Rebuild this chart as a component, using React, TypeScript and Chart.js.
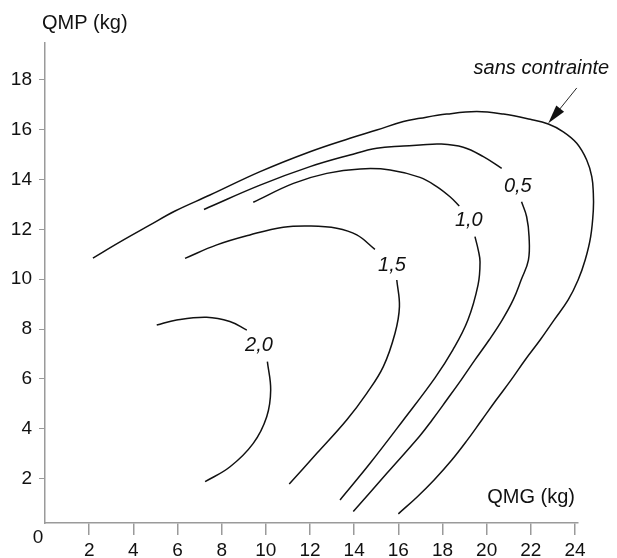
import React, { useEffect, useRef } from 'react';
import { Chart, registerables } from 'chart.js';

Chart.register(...registerables);

// ---- tick values ----
const xTicks = [2, 4, 6, 8, 10, 12, 14, 16, 18, 20, 22, 24];
const yTicks = [2, 4, 6, 8, 10, 12, 14, 16, 18];

// ---- curves (x = QMG kg, y = QMP kg) ----
const curveFree: [number, number][] = [
  [2.17, 10.85], [3.4, 11.5], [4.76, 12.18], [5.89, 12.74], [7.47, 13.38], [9.74, 14.32],
  [12.0, 15.12], [13.81, 15.66], [15.02, 15.99], [16.23, 16.33], [16.98, 16.46], [18.19, 16.63],
  [19.55, 16.73], [20.76, 16.63], [21.97, 16.42], [22.79, 16.23], [23.47, 15.92], [24.08, 15.46],
  [24.53, 14.79], [24.76, 14.12], [24.83, 13.45], [24.83, 12.78], [24.71, 11.71], [24.46, 10.77],
  [24.14, 9.97], [23.69, 9.17], [23.05, 8.36], [22.42, 7.56], [21.74, 6.76], [21.1, 5.95],
  [20.43, 5.15], [19.78, 4.35], [19.13, 3.55], [18.42, 2.74], [17.62, 1.94], [16.85, 1.26],
  [16.0, 0.58],
];

const curve05Upper: [number, number][] = [
  [7.2, 12.8], [7.47, 12.91], [9.74, 13.78], [12.0, 14.52], [13.81, 14.99], [15.02, 15.26],
  [16.23, 15.35], [16.98, 15.39], [17.89, 15.43], [18.94, 15.3], [19.85, 14.92], [20.68, 14.45],
];
const curve05Lower: [number, number][] = [
  [21.58, 13.11], [21.81, 12.51], [21.92, 11.71], [21.89, 10.77], [21.56, 9.97], [21.2, 9.17],
  [20.7, 8.36], [20.11, 7.56], [19.47, 6.76], [18.84, 5.95], [18.19, 5.15], [17.53, 4.35],
  [16.96, 3.7], [15.48, 2.21], [13.96, 0.67],
];

const curve10Upper: [number, number][] = [
  [9.43, 13.09], [11.25, 13.85], [12.76, 14.25], [14.27, 14.43], [15.63, 14.39], [16.98, 14.09],
  [17.74, 13.72], [18.34, 13.31], [18.76, 12.94],
];
const curve10Lower: [number, number][] = [
  [19.47, 11.71], [19.62, 11.17], [19.7, 10.69], [19.61, 9.77], [19.15, 8.36], [18.47, 7.16],
  [17.66, 6.04], [16.23, 4.35], [14.72, 2.61], [13.36, 1.14],
];

const curve15Upper: [number, number][] = [
  [6.34, 10.84], [7.78, 11.38], [9.28, 11.78], [10.79, 12.09], [12.0, 12.14], [13.21, 12.05],
  [14.12, 11.78], [14.94, 11.2],
];
const curve15Lower: [number, number][] = [
  [15.93, 9.97], [16.05, 8.9], [15.85, 7.83], [15.32, 6.49], [14.57, 5.42], [13.66, 4.35],
  [12.31, 3.01], [11.06, 1.78],
];

const curve20Upper: [number, number][] = [
  [5.06, 8.16], [5.96, 8.36], [7.32, 8.47], [8.37, 8.3], [9.14, 7.96],
];
const curve20Lower: [number, number][] = [
  [10.07, 6.69], [10.22, 5.55], [10.04, 4.48], [9.43, 3.41], [8.38, 2.47], [7.25, 1.87],
];

// ---- annotations ----
const contourLabels = ['0,5', '1,0', '1,5', '2,0'];
const contourLabelX = [21.41, 19.19, 15.71, 9.69];
const contourLabelY = [13.72, 12.38, 10.54, 7.36];
const noteText = 'sans contrainte';
const notePos: [number, number] = [22.48, 18.48];
const arrowFrom: [number, number] = [24.08, 17.68];
const arrowTo: [number, number] = [22.79, 16.26];
const xTitle = 'QMG (kg)';
const yTitle = 'QMP (kg)';
const originLabel = '0';

const FONT = '"Liberation Sans", Arial, Helvetica, sans-serif';

const toPts = (arr: [number, number][]) => arr.map(([x, y]) => ({ x, y }));

const annotations = {
  id: 'annotations',
  afterDatasetsDraw(chart: any) {
    const ctx = chart.ctx as CanvasRenderingContext2D;
    const xs = chart.scales.x;
    const ys = chart.scales.y;
    const ca = chart.chartArea;
    ctx.save();
    ctx.fillStyle = '#111';
    // axis titles
    ctx.font = `20px ${FONT}`;
    ctx.textBaseline = 'middle';
    ctx.textAlign = 'left';
    ctx.fillText(yTitle, ca.left - 3, ca.top - 20);
    ctx.textAlign = 'right';
    ctx.fillText(xTitle, xs.getPixelForValue(24), ca.bottom - 26);
    ctx.font = `19px ${FONT}`;
    ctx.textAlign = 'center';
    ctx.fillText(originLabel, ca.left - 7, ca.bottom + 15);

    // contour labels
    ctx.font = `italic 20px ${FONT}`;
    ctx.textAlign = 'center';
    contourLabels.forEach((t, i) => {
      ctx.fillText(t, xs.getPixelForValue(contourLabelX[i]), ys.getPixelForValue(contourLabelY[i]));
    });
    ctx.fillText(noteText, xs.getPixelForValue(notePos[0]), ys.getPixelForValue(notePos[1]));

    // arrow
    const x1 = xs.getPixelForValue(arrowFrom[0]);
    const y1 = ys.getPixelForValue(arrowFrom[1]);
    const x2 = xs.getPixelForValue(arrowTo[0]);
    const y2 = ys.getPixelForValue(arrowTo[1]);
    const ang = Math.atan2(y2 - y1, x2 - x1);
    const headLen = 19;
    const headW = 5;
    ctx.strokeStyle = '#111';
    ctx.lineWidth = 0.9;
    ctx.beginPath();
    ctx.moveTo(x1, y1);
    ctx.lineTo(x2 - Math.cos(ang) * headLen * 0.8, y2 - Math.sin(ang) * headLen * 0.8);
    ctx.stroke();
    const bx = x2 - Math.cos(ang) * headLen;
    const by = y2 - Math.sin(ang) * headLen;
    ctx.beginPath();
    ctx.moveTo(x2, y2);
    ctx.lineTo(bx + Math.sin(ang) * headW, by - Math.cos(ang) * headW);
    ctx.lineTo(bx - Math.sin(ang) * headW, by + Math.cos(ang) * headW);
    ctx.closePath();
    ctx.fill();
    ctx.restore();
  },
};

export default function App() {
  const ref = useRef<HTMLCanvasElement | null>(null);
  useEffect(() => {
    if (!ref.current) return;
    const curves = [
      curveFree, curve05Upper, curve05Lower, curve10Upper, curve10Lower,
      curve15Upper, curve15Lower, curve20Upper, curve20Lower,
    ];
    const axisGray = '#9a9a9a';
    const chart = new Chart(ref.current, {
      type: 'scatter',
      data: {
        datasets: curves.map((c) => ({
          data: toPts(c),
          showLine: true,
          borderColor: '#111',
          borderWidth: 1.5,
          pointRadius: 0,
          tension: 0.4,
          capBezierPoints: false,
          clip: false,
          fill: false,
        })) as any,
      },
      options: {
        animation: false,
        responsive: false,
        devicePixelRatio: 1,
        layout: { padding: { top: 43, right: 39, left: 0, bottom: 0 } },
        plugins: { legend: { display: false }, tooltip: { enabled: false } },
        scales: {
          x: {
            type: 'linear',
            min: 0,
            max: 24.136,
            afterBuildTicks: (s: any) => {
              s.ticks = xTicks.map((v) => ({ value: v }));
            },
            afterFit: (s: any) => {
              s.height = 35;
            },
            grid: { drawOnChartArea: false, drawTicks: true, tickLength: 12, color: axisGray, lineWidth: 1.5 },
            border: { display: true, color: axisGray, width: 1.5 },
            ticks: { font: { family: FONT, size: 19 }, color: '#111', padding: 4, maxRotation: 0, autoSkip: false },
          },
          y: {
            type: 'linear',
            min: 0.213,
            max: 19.485,
            afterBuildTicks: (s: any) => {
              s.ticks = yTicks.map((v) => ({ value: v }));
            },
            afterFit: (s: any) => {
              s.width = 45;
            },
            grid: { drawOnChartArea: false, drawTicks: true, tickLength: 6, color: axisGray, lineWidth: 1 },
            border: { display: true, color: axisGray, width: 1.5 },
            ticks: { font: { family: FONT, size: 19 }, color: '#111', padding: 7, autoSkip: false },
          },
        },
      } as any,
      plugins: [annotations],
    });
    return () => chart.destroy();
  }, []);
  return (
    <div style={{ position: 'fixed', left: 0, top: 0, width: 617, height: 558, background: '#fff' }}>
      <canvas ref={ref} width={617} height={558} style={{ display: 'block', width: 617, height: 558 }} />
    </div>
  );
}
